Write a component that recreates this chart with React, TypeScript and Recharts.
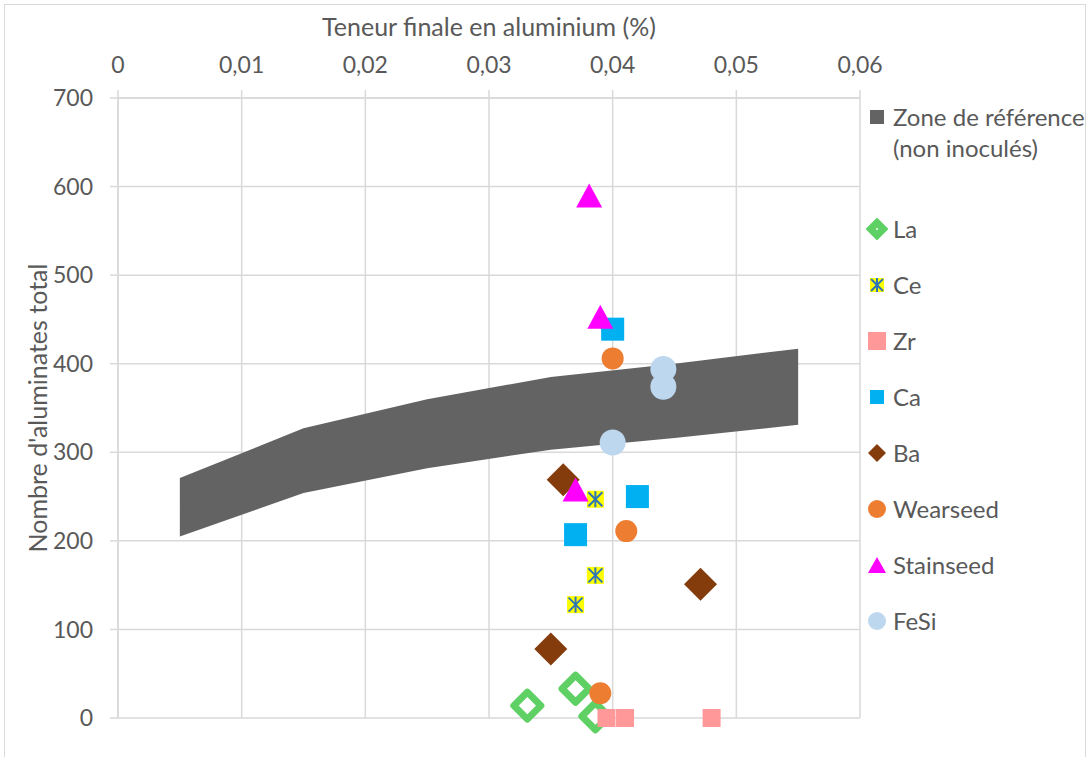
import React from "react";
import {
  ComposedChart,
  Area,
  Scatter,
  XAxis,
  YAxis,
  CartesianGrid,
  Legend,
} from "recharts";

// axis ticks
const xTicks = [0, 0.01, 0.02, 0.03, 0.04, 0.05, 0.06];
const yTicks = [0, 100, 200, 300, 400, 500, 600, 700];

// reference band (non inoculated)
const bandX = [0.005, 0.015, 0.025, 0.035, 0.045, 0.055];
const bandLow = [205, 254, 282, 303, 316, 331];
const bandHigh = [271, 327, 360, 385, 400, 417];

// inoculant points (Al %, total aluminates)
const laPoints = [
  { x: 0.0331, y: 14 },
  { x: 0.037, y: 33 },
  { x: 0.0386, y: 2 },
];
const cePoints = [
  { x: 0.0386, y: 247 },
  { x: 0.0386, y: 161 },
  { x: 0.037, y: 128 },
];
const zrPoints = [
  { x: 0.0395, y: 0 },
  { x: 0.041, y: 0 },
  { x: 0.048, y: 0 },
];
const caPoints = [
  { x: 0.04, y: 439 },
  { x: 0.042, y: 250 },
  { x: 0.037, y: 207 },
];
const baPoints = [
  { x: 0.036, y: 269 },
  { x: 0.0471, y: 151 },
  { x: 0.035, y: 78 },
];
const wearseedPoints = [
  { x: 0.04, y: 406 },
  { x: 0.0411, y: 211 },
  { x: 0.039, y: 28 },
];
const stainseedPoints = [
  { x: 0.0381, y: 590 },
  { x: 0.039, y: 453 },
  { x: 0.037, y: 258 },
];
const fesiPoints = [
  { x: 0.0441, y: 394 },
  { x: 0.0441, y: 374 },
  { x: 0.04, y: 311 },
];

const BAND_NAME = "Zone de référence (non inoculés)";
const legendOrder = [BAND_NAME, "La", "Ce", "Zr", "Ca", "Ba", "Wearseed", "Stainseed", "FeSi"];

const bandData = bandX.map((x, i) => ({ x, range: [bandLow[i], bandHigh[i]] }));

const FONT = "Lato, 'Open Sans', sans-serif";
const TEXT = "#595959";
const GRID = "#d9d9d9";

// marker shapes, drawn around the cx/cy that recharts gives
const diamondPath = (cx: number, cy: number, r: number) =>
  `M${cx},${cy - r} L${cx + r},${cy} L${cx},${cy + r} L${cx - r},${cy} Z`;

const LaShape = ({ cx, cy }: any) => (
  <path d={diamondPath(cx, cy, 13.5)} fill="#fff" stroke="#5ed064" strokeWidth={7} strokeLinejoin="round" />
);
const CeShape = ({ cx, cy }: any) => (
  <g>
    <rect x={cx - 8.5} y={cy - 8.5} width={17} height={17} fill="#ffff00" />
    <g stroke="#2e75b6" strokeWidth={2}>
      <line x1={cx} y1={cy - 8} x2={cx} y2={cy + 8} />
      <line x1={cx - 7} y1={cy - 7} x2={cx + 7} y2={cy + 7} />
      <line x1={cx - 7} y1={cy + 7} x2={cx + 7} y2={cy - 7} />
    </g>
  </g>
);
const ZrShape = ({ cx, cy }: any) => (
  <rect x={cx - 9} y={cy - 9} width={18} height={18} fill="#ff9999" />
);
const CaShape = ({ cx, cy }: any) => (
  <rect x={cx - 11.5} y={cy - 11.5} width={23} height={23} fill="#00b0f0" />
);
const BaShape = ({ cx, cy }: any) => <path d={diamondPath(cx, cy, 16.5)} fill="#843c0c" />;
const WearseedShape = ({ cx, cy }: any) => <circle cx={cx} cy={cy} r={11} fill="#ed7d31" />;
const StainseedShape = ({ cx, cy }: any) => (
  <path d={`M${cx},${cy - 12} L${cx + 13},${cy + 12} L${cx - 13},${cy + 12} Z`} fill="#ff00ff" />
);
const FesiShape = ({ cx, cy }: any) => <circle cx={cx} cy={cy} r={13} fill="#bdd7ee" />;

const LegendIcon = ({ name }: { name: string }) => {
  const c = 11;
  let icon: React.ReactNode = null;
  switch (name) {
    case BAND_NAME:
      icon = <rect x={c - 7} y={c - 7} width={14} height={14} fill="#636363" />;
      break;
    case "La":
      icon = (
        <g>
          <path d={diamondPath(c, c, 10)} fill="#5ed064" stroke="#5ed064" strokeLinejoin="round" strokeWidth={2} />
          <circle cx={c} cy={c} r={1} fill="#fff" />
        </g>
      );
      break;
    case "Ce":
      icon = (
        <g>
          <rect x={c - 7} y={c - 7} width={14} height={14} fill="#ffff00" />
          <g stroke="#2e75b6" strokeWidth={2}>
            <line x1={c} y1={c - 7} x2={c} y2={c + 7} />
            <line x1={c - 6} y1={c - 6} x2={c + 6} y2={c + 6} />
            <line x1={c - 6} y1={c + 6} x2={c + 6} y2={c - 6} />
          </g>
        </g>
      );
      break;
    case "Zr":
      icon = <rect x={c - 9} y={c - 9} width={18} height={18} fill="#ff9999" />;
      break;
    case "Ca":
      icon = <rect x={c - 7} y={c - 7} width={14} height={14} fill="#00b0f0" />;
      break;
    case "Ba":
      icon = <path d={diamondPath(c, c, 9)} fill="#843c0c" />;
      break;
    case "Wearseed":
      icon = <circle cx={c} cy={c} r={9} fill="#ed7d31" />;
      break;
    case "Stainseed":
      icon = <path d={`M${c},${c - 8} L${c + 9},${c + 8} L${c - 9},${c + 8} Z`} fill="#ff00ff" />;
      break;
    case "FeSi":
      icon = <circle cx={c} cy={c} r={9} fill="#bdd7ee" />;
      break;
  }
  return (
    <svg width={22} height={22} style={{ flex: "none" }}>
      {icon}
    </svg>
  );
};

// recharts sorts the payload by name, so keep the original order here
const renderLegend = ({ payload }: any) => {
  const names: string[] = (payload || []).map((p: any) => p.value);
  const ordered = legendOrder.filter((n) => names.includes(n));
  return (
    <div style={{ fontFamily: FONT, fontSize: 24, color: TEXT }}>
      {ordered.map((name, i) => {
        if (name === BAND_NAME) {
          return (
            <div key={name} style={{ display: "flex", alignItems: "flex-start", lineHeight: "31px" }}>
              <div style={{ height: 31, display: "flex", alignItems: "center" }}>
                <LegendIcon name={name} />
              </div>
              <div style={{ marginLeft: 5, whiteSpace: "nowrap" }}>
                <div>Zone de référence</div>
                <div>(non inoculés)</div>
              </div>
            </div>
          );
        }
        return (
          <div
            key={name}
            style={{
              display: "flex",
              alignItems: "center",
              height: 56,
              marginTop: i === 1 ? 37.5 : 0,
            }}
          >
            <LegendIcon name={name} />
            <span style={{ marginLeft: 5 }}>{name}</span>
          </div>
        );
      })}
    </div>
  );
};

export default function App() {
  return (
    <div style={{ position: "relative", width: 1091, height: 757, background: "#fff", overflow: "hidden" }}>
      <style>{`body{margin:0}`}</style>
      <div
        style={{
          position: "absolute",
          left: 4,
          top: 4,
          width: 1080,
          height: 800,
          border: `1.5px solid ${GRID}`,
        }}
      />
      <ComposedChart
        width={1091}
        height={757}
        data={bandData}
        margin={{ top: 0, right: 231, bottom: 39, left: 0 }}
        style={{ position: "absolute", left: 0, top: 0 }}
      >
        <CartesianGrid stroke={GRID} strokeWidth={1.5} />
        <XAxis
          dataKey="x"
          type="number"
          orientation="top"
          domain={[0, 0.06]}
          ticks={xTicks}
          height={98}
          tickSize={8}
          tickMargin={17}
          axisLine={{ stroke: GRID, strokeWidth: 1.5 }}
          tickLine={{ stroke: GRID, strokeWidth: 1.5 }}
          tick={{ fill: TEXT, fontSize: 23, fontFamily: FONT }}
          tickFormatter={(v: number) => (v === 0 ? "0" : v.toFixed(2).replace(".", ","))}
          label={{
            value: "Teneur finale en aluminium (%)",
            position: "insideTop",
            offset: 18,
            style: { fill: TEXT, fontSize: 25, fontFamily: FONT },
          }}
        />
        <YAxis
          type="number"
          domain={[0, 700]}
          ticks={yTicks}
          width={118}
          tickSize={8}
          tickMargin={17}
          axisLine={{ stroke: GRID, strokeWidth: 1.5 }}
          tickLine={{ stroke: GRID, strokeWidth: 1.5 }}
          tick={{ fill: TEXT, fontSize: 23, fontFamily: FONT }}
          label={{
            value: "Nombre d'aluminates total",
            angle: -90,
            position: "insideLeft",
            offset: 38,
            style: { fill: TEXT, fontSize: 25, fontFamily: FONT, textAnchor: "middle" },
          }}
        />
        <Legend
          layout="vertical"
          align="center"
          verticalAlign="middle"
          content={renderLegend}
          wrapperStyle={{ left: 866, top: 101, width: 225 }}
        />
        <Area
          dataKey="range"
          name={BAND_NAME}
          type="linear"
          stroke="none"
          fill="#636363"
          fillOpacity={1}
          isAnimationActive={false}
        />
        <Scatter name="La" data={laPoints} dataKey="y" shape={LaShape} isAnimationActive={false} />
        <Scatter name="Ce" data={cePoints} dataKey="y" shape={CeShape} isAnimationActive={false} />
        <Scatter name="Zr" data={zrPoints} dataKey="y" shape={ZrShape} isAnimationActive={false} />
        <Scatter name="Ca" data={caPoints} dataKey="y" shape={CaShape} isAnimationActive={false} />
        <Scatter name="Ba" data={baPoints} dataKey="y" shape={BaShape} isAnimationActive={false} />
        <Scatter name="Wearseed" data={wearseedPoints} dataKey="y" shape={WearseedShape} isAnimationActive={false} />
        <Scatter name="Stainseed" data={stainseedPoints} dataKey="y" shape={StainseedShape} isAnimationActive={false} />
        <Scatter name="FeSi" data={fesiPoints} dataKey="y" shape={FesiShape} isAnimationActive={false} />
      </ComposedChart>
    </div>
  );
}
